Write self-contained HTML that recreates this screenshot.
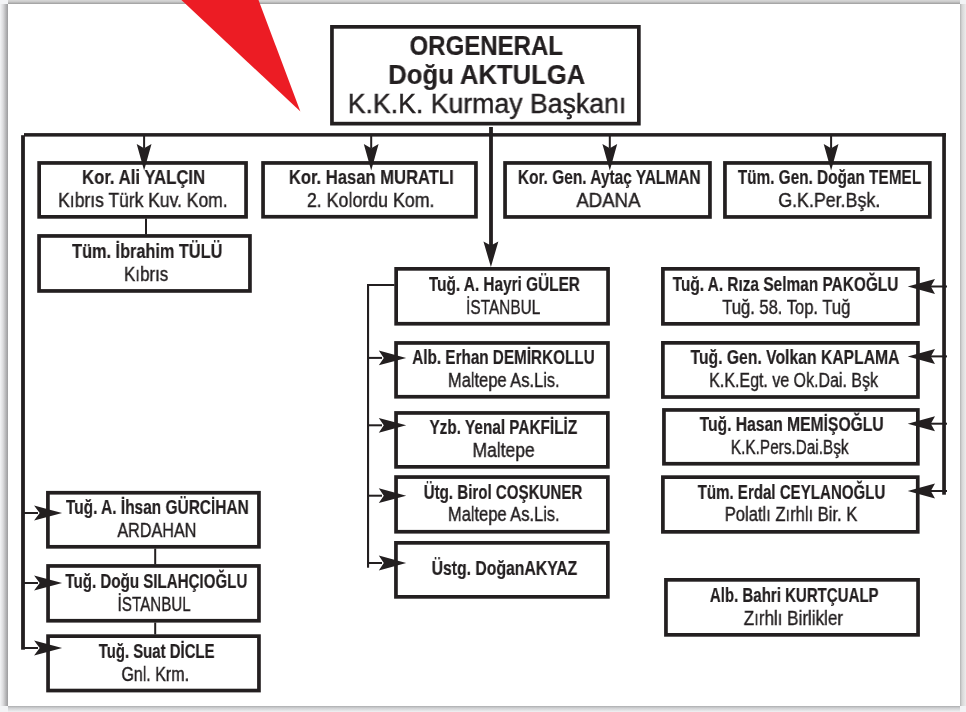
<!DOCTYPE html>
<html><head><meta charset="utf-8"><style>
html,body{margin:0;padding:0;}
body{width:966px;height:712px;position:relative;overflow:hidden;background:#f3f4f6;font-family:"Liberation Sans",sans-serif;color:#231f20;}
.sh{position:absolute;}
.paper{position:absolute;left:8px;top:4px;width:952px;height:702px;background:#fff;}
.b{position:absolute;box-sizing:border-box;border:4px solid #231f20;background:#fff;}
.t{position:absolute;width:600px;text-align:center;white-space:nowrap;}
.t span{display:inline-block;transform-origin:50% 0;will-change:transform;-webkit-text-stroke:0.4px #231f20;}
.t.bd span{-webkit-text-stroke:0.2px #231f20;}
svg{position:absolute;left:0;top:0;}
</style></head><body>
<div class="sh" style="left:8px;top:0;width:952px;height:4px;background:linear-gradient(to bottom,#d8d8d8 0px,#c8c8c8 2px,#a3a3a3 3.4px,#b8b8b8 4px)"></div>
<div class="sh" style="left:0;top:4px;width:8px;height:702px;background:linear-gradient(to right,#f3f4f6 0px,#dcdcde 3px,#b4b4b6 6px,#a0a0a2 7.6px)"></div>
<div class="sh" style="left:960px;top:4px;width:6px;height:702px;background:linear-gradient(to right,#b2b2b2 0px,#d6d6d6 2px,#ececec 6px)"></div>
<div class="sh" style="left:8px;top:706px;width:952px;height:6px;background:linear-gradient(to bottom,#acadaf 0px,#cfd0d2 2px,#f0f1f3 6px)"></div>
<div class="paper"></div>

<svg width="966" height="712" viewBox="0 0 966 712" fill="#231f20">
<path d="M181.4,0 L258.5,0 L300.4,111.5 Z" fill="#ec1c24"/>
<rect x="331.95" y="26.85" width="306.90" height="96.80" fill="#fff" stroke="#231f20" stroke-width="3.7"/>
<rect x="39.15" y="162.95" width="206.90" height="53.90" fill="#fff" stroke="#231f20" stroke-width="3.7"/>
<rect x="39.05" y="235.95" width="210.90" height="55.00" fill="#fff" stroke="#231f20" stroke-width="3.7"/>
<rect x="263.05" y="162.95" width="212.90" height="53.80" fill="#fff" stroke="#231f20" stroke-width="3.7"/>
<rect x="505.05" y="162.95" width="204.90" height="54.00" fill="#fff" stroke="#231f20" stroke-width="3.7"/>
<rect x="724.95" y="162.95" width="204.90" height="54.00" fill="#fff" stroke="#231f20" stroke-width="3.7"/>
<rect x="396.15" y="268.85" width="211.90" height="54.90" fill="#fff" stroke="#231f20" stroke-width="3.7"/>
<rect x="396.05" y="342.95" width="211.90" height="53.80" fill="#fff" stroke="#231f20" stroke-width="3.7"/>
<rect x="396.05" y="412.95" width="211.80" height="53.90" fill="#fff" stroke="#231f20" stroke-width="3.7"/>
<rect x="396.05" y="477.05" width="211.80" height="54.70" fill="#fff" stroke="#231f20" stroke-width="3.7"/>
<rect x="395.95" y="542.85" width="211.90" height="54.00" fill="#fff" stroke="#231f20" stroke-width="3.7"/>
<rect x="662.90" y="268.85" width="255.05" height="55.00" fill="#fff" stroke="#231f20" stroke-width="3.7"/>
<rect x="662.90" y="342.85" width="255.05" height="54.15" fill="#fff" stroke="#231f20" stroke-width="3.7"/>
<rect x="663.95" y="409.95" width="253.90" height="53.80" fill="#fff" stroke="#231f20" stroke-width="3.7"/>
<rect x="662.90" y="477.15" width="254.85" height="54.70" fill="#fff" stroke="#231f20" stroke-width="3.7"/>
<rect x="665.95" y="579.85" width="252.10" height="55.00" fill="#fff" stroke="#231f20" stroke-width="3.7"/>
<rect x="47.91" y="492.75" width="211.04" height="54.05" fill="#fff" stroke="#231f20" stroke-width="3.7"/>
<rect x="48.05" y="565.95" width="210.90" height="54.80" fill="#fff" stroke="#231f20" stroke-width="3.7"/>
<rect x="48.05" y="636.15" width="210.90" height="54.40" fill="#fff" stroke="#231f20" stroke-width="3.7"/>
<rect x="24.00" y="133.10" width="921.90" height="3.50"/>
<rect x="21.10" y="135.20" width="3.80" height="514.50"/>
<rect x="942.20" y="133.10" width="3.70" height="361.60"/>
<rect x="489.10" y="127.00" width="3.80" height="120.00"/>
<path d="M483.45,241.50 L490.90,245.40 L498.35,241.50 L490.90,267.10 Z"/>
<rect x="143.10" y="136.00" width="2.00" height="12.00"/>
<path d="M136.70,144.10 L144.10,148.30 L151.50,144.10 L144.10,170.60 Z"/>
<rect x="370.20" y="136.00" width="2.00" height="12.00"/>
<path d="M363.80,144.10 L371.20,148.30 L378.60,144.10 L371.20,170.60 Z"/>
<rect x="608.80" y="136.00" width="2.00" height="12.00"/>
<path d="M602.40,144.10 L609.80,148.30 L617.20,144.10 L609.80,170.60 Z"/>
<rect x="830.10" y="136.00" width="2.00" height="12.00"/>
<path d="M823.70,144.10 L831.10,148.30 L838.50,144.10 L831.10,170.60 Z"/>
<rect x="367.00" y="284.00" width="2.10" height="283.70"/>
<rect x="367.00" y="284.00" width="27.50" height="2.00"/>
<rect x="367.00" y="356.90" width="15.00" height="2.00"/>
<path d="M378.80,350.50 L383.80,357.90 L378.80,365.30 L406.20,357.90 Z"/>
<rect x="367.00" y="424.30" width="15.00" height="2.00"/>
<path d="M378.80,417.90 L383.80,425.30 L378.80,432.70 L406.20,425.30 Z"/>
<rect x="367.00" y="494.70" width="15.00" height="2.00"/>
<path d="M378.80,488.30 L383.80,495.70 L378.80,503.10 L406.20,495.70 Z"/>
<rect x="367.00" y="562.00" width="15.00" height="2.00"/>
<path d="M378.80,555.60 L383.80,563.00 L378.80,570.40 L406.20,563.00 Z"/>
<rect x="928.00" y="285.50" width="19.00" height="2.00"/>
<path d="M935.00,279.00 L930.80,286.50 L935.00,294.00 L907.70,286.50 Z"/>
<rect x="928.00" y="355.40" width="19.00" height="2.00"/>
<path d="M935.00,348.90 L930.80,356.40 L935.00,363.90 L907.70,356.40 Z"/>
<rect x="928.00" y="422.70" width="19.00" height="2.00"/>
<path d="M935.00,416.20 L930.80,423.70 L935.00,431.20 L907.70,423.70 Z"/>
<rect x="928.00" y="490.00" width="19.00" height="2.00"/>
<path d="M935.00,483.50 L930.80,491.00 L935.00,498.50 L907.70,491.00 Z"/>
<rect x="24.00" y="512.00" width="14.00" height="2.00"/>
<path d="M34.10,505.60 L39.70,513.00 L34.10,520.40 L62.10,513.00 Z"/>
<rect x="24.00" y="582.00" width="14.00" height="2.00"/>
<path d="M34.10,575.60 L39.70,583.00 L34.10,590.40 L62.10,583.00 Z"/>
<rect x="24.00" y="647.00" width="14.00" height="2.00"/>
<path d="M34.10,640.60 L39.70,648.00 L34.10,655.40 L62.10,648.00 Z"/>
<rect x="145.00" y="218.50" width="2.00" height="16.00"/>
<rect x="154.20" y="548.50" width="2.00" height="16.00"/>
<rect x="154.20" y="622.50" width="2.00" height="12.00"/>
</svg>
<div class="t bd" style="left:186.65px;top:33.05px;font-size:27px;line-height:27px;font-weight:700;"><span style="transform:scaleX(0.8895)">ORGENERAL</span></div>
<div class="t bd" style="left:187.10px;top:61.85px;font-size:27px;line-height:27px;font-weight:700;"><span style="transform:scaleX(0.9489)">Doğu AKTULGA</span></div>
<div class="t" style="left:186.80px;top:91.05px;font-size:27px;line-height:27px;"><span style="transform:scaleX(0.9876)">K.K.K. Kurmay Başkanı</span></div>
<div class="t bd" style="left:-156.40px;top:166.80px;font-size:20px;line-height:20px;font-weight:700;"><span style="transform:scaleX(0.8373)">Kor. Ali YALÇIN</span></div>
<div class="t" style="left:-156.90px;top:189.60px;font-size:20px;line-height:20px;"><span style="transform:scaleX(0.8746)">Kıbrıs Türk Kuv. Kom.</span></div>
<div class="t bd" style="left:-152.90px;top:241.20px;font-size:20px;line-height:20px;font-weight:700;"><span style="transform:scaleX(0.8149)">Tüm. İbrahim TÜLÜ</span></div>
<div class="t" style="left:-153.75px;top:263.60px;font-size:20px;line-height:20px;"><span style="transform:scaleX(0.8465)">Kıbrıs</span></div>
<div class="t bd" style="left:71.70px;top:166.70px;font-size:20px;line-height:20px;font-weight:700;"><span style="transform:scaleX(0.8303)">Kor. Hasan MURATLI</span></div>
<div class="t" style="left:70.90px;top:189.90px;font-size:20px;line-height:20px;"><span style="transform:scaleX(0.8898)">2. Kolordu Kom.</span></div>
<div class="t bd" style="left:309.25px;top:166.70px;font-size:20px;line-height:20px;font-weight:700;"><span style="transform:scaleX(0.7730)">Kor. Gen. Aytaç YALMAN</span></div>
<div class="t" style="left:308.75px;top:189.90px;font-size:20px;line-height:20px;"><span style="transform:scaleX(0.9321)">ADANA</span></div>
<div class="t bd" style="left:529.80px;top:166.70px;font-size:20px;line-height:20px;font-weight:700;"><span style="transform:scaleX(0.7677)">Tüm. Gen. Doğan TEMEL</span></div>
<div class="t" style="left:529.40px;top:189.90px;font-size:20px;line-height:20px;"><span style="transform:scaleX(0.8905)">G.K.Per.Bşk.</span></div>
<div class="t bd" style="left:204.45px;top:273.70px;font-size:20px;line-height:20px;font-weight:700;"><span style="transform:scaleX(0.7677)">Tuğ. A. Hayri GÜLER</span></div>
<div class="t" style="left:203.45px;top:296.60px;font-size:20px;line-height:20px;"><span style="transform:scaleX(0.7698)">İSTANBUL</span></div>
<div class="t bd" style="left:203.45px;top:347.10px;font-size:20px;line-height:20px;font-weight:700;"><span style="transform:scaleX(0.7637)">Alb. Erhan DEMİRKOLLU</span></div>
<div class="t" style="left:203.85px;top:369.90px;font-size:20px;line-height:20px;"><span style="transform:scaleX(0.8238)">Maltepe As.Lis.</span></div>
<div class="t bd" style="left:202.90px;top:416.70px;font-size:20px;line-height:20px;font-weight:700;"><span style="transform:scaleX(0.7664)">Yzb. Yenal PAKFİLİZ</span></div>
<div class="t" style="left:203.20px;top:439.90px;font-size:20px;line-height:20px;"><span style="transform:scaleX(0.8728)">Maltepe</span></div>
<div class="t bd" style="left:203.30px;top:481.70px;font-size:20px;line-height:20px;font-weight:700;"><span style="transform:scaleX(0.7555)">Ütg. Birol COŞKUNER</span></div>
<div class="t" style="left:203.85px;top:503.90px;font-size:20px;line-height:20px;"><span style="transform:scaleX(0.8238)">Maltepe As.Lis.</span></div>
<div class="t bd" style="left:204.20px;top:557.50px;font-size:20px;line-height:20px;font-weight:700;"><span style="transform:scaleX(0.7880)">Üstg. DoğanAKYAZ</span></div>
<div class="t bd" style="left:485.10px;top:273.70px;font-size:20px;line-height:20px;font-weight:700;"><span style="transform:scaleX(0.7707)">Tuğ. A. Rıza Selman PAKOĞLU</span></div>
<div class="t" style="left:486.60px;top:296.65px;font-size:20px;line-height:20px;"><span style="transform:scaleX(0.8282)">Tuğ. 58. Top. Tuğ</span></div>
<div class="t bd" style="left:494.65px;top:346.50px;font-size:20px;line-height:20px;font-weight:700;"><span style="transform:scaleX(0.7858)">Tuğ. Gen. Volkan KAPLAMA</span></div>
<div class="t" style="left:493.45px;top:369.90px;font-size:20px;line-height:20px;"><span style="transform:scaleX(0.7992)">K.K.Egt. ve Ok.Dai. Bşk</span></div>
<div class="t bd" style="left:491.55px;top:413.50px;font-size:20px;line-height:20px;font-weight:700;"><span style="transform:scaleX(0.7824)">Tuğ. Hasan MEMİŞOĞLU</span></div>
<div class="t" style="left:489.95px;top:436.90px;font-size:20px;line-height:20px;"><span style="transform:scaleX(0.7670)">K.K.Pers.Dai.Bşk</span></div>
<div class="t bd" style="left:491.20px;top:481.70px;font-size:20px;line-height:20px;font-weight:700;"><span style="transform:scaleX(0.7540)">Tüm. Erdal CEYLANOĞLU</span></div>
<div class="t" style="left:491.30px;top:503.60px;font-size:20px;line-height:20px;"><span style="transform:scaleX(0.8280)">Polatlı Zırhlı Bir. K</span></div>
<div class="t bd" style="left:494.60px;top:585.00px;font-size:20px;line-height:20px;font-weight:700;"><span style="transform:scaleX(0.7520)">Alb. Bahri KURTÇUALP</span></div>
<div class="t" style="left:493.70px;top:607.75px;font-size:20px;line-height:20px;"><span style="transform:scaleX(0.8503)">Zırhlı Birlikler</span></div>
<div class="t bd" style="left:-143.15px;top:496.70px;font-size:20px;line-height:20px;font-weight:700;"><span style="transform:scaleX(0.7727)">Tuğ. A. İhsan GÜRCİHAN</span></div>
<div class="t" style="left:-143.30px;top:519.90px;font-size:20px;line-height:20px;"><span style="transform:scaleX(0.8088)">ARDAHAN</span></div>
<div class="t bd" style="left:-143.55px;top:570.70px;font-size:20px;line-height:20px;font-weight:700;"><span style="transform:scaleX(0.7561)">Tuğ. Doğu SILAHÇIOĞLU</span></div>
<div class="t" style="left:-145.70px;top:593.60px;font-size:20px;line-height:20px;"><span style="transform:scaleX(0.7582)">İSTANBUL</span></div>
<div class="t bd" style="left:-143.45px;top:640.70px;font-size:20px;line-height:20px;font-weight:700;"><span style="transform:scaleX(0.7468)">Tuğ. Suat DİCLE</span></div>
<div class="t" style="left:-145.00px;top:663.65px;font-size:20px;line-height:20px;"><span style="transform:scaleX(0.8009)">Gnl. Krm.</span></div>
</body></html>
